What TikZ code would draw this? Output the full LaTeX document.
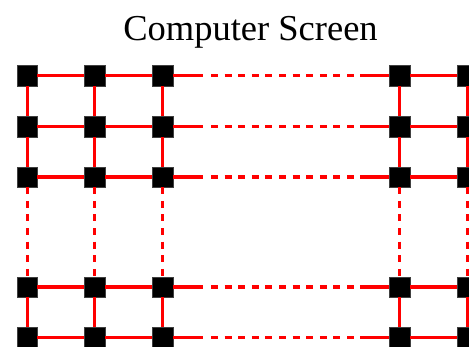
\documentclass[tikz,border=0pt]{standalone}
\usepackage{fontspec}
\setmainfont{Liberation Serif}
\begin{document}
\begin{tikzpicture}[x=1pt,y=-1pt,
  pix/.style={fill=black,draw=black!75,line width=0.5pt,minimum size=20.5pt,inner sep=0pt,outer sep=0pt},
  wire/.style={red,line width=3.4pt},
  dwire/.style={wire,dash pattern=on 7pt off 6.6pt}]
\useasboundingbox (0,0) rectangle (469,346);
\clip (0,0) rectangle (469,346);
\node[anchor=base,font=\fontsize{36.5}{40}\selectfont,inner sep=0pt] (title) at (250.5,40) {Computer Screen};
\foreach \r/\y in {1/75.5,2/126.5,3/177,4/287,5/337.5}{
  \foreach \c/\x in {1/27.2,2/94.5,3/162.5,4/399.5,5/467.5}{
    \node[pix] (n-\r-\c) at (\x,\y) {};
  }
  \coordinate (p-\r) at (203,\y);
  \coordinate (q-\r) at (211,\y);
  \coordinate (s-\r) at (360,\y);
  \draw[wire] (n-\r-1) -- (n-\r-2);
  \draw[wire] (n-\r-2) -- (n-\r-3);
  \draw[wire] (n-\r-3) -- (p-\r);
  \draw[dwire] (q-\r) -- (s-\r);
  \draw[wire] (s-\r) -- (n-\r-4);
  \draw[wire] (n-\r-4) -- (n-\r-5);
}
\foreach \c in {1,...,5}{
  \draw[wire] (n-1-\c) -- (n-2-\c);
  \draw[wire] (n-2-\c) -- (n-3-\c);
  \draw[dwire] (n-3-\c) -- (n-4-\c);
  \draw[wire] (n-4-\c) -- (n-5-\c);
}
\end{tikzpicture}
\end{document}
